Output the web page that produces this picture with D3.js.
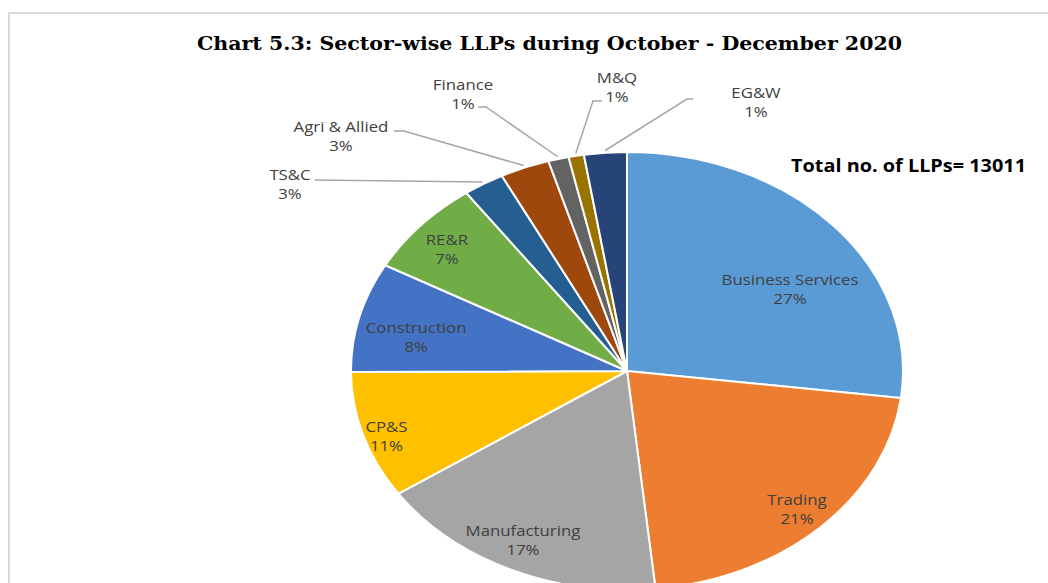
<!DOCTYPE html>
<html>
<head>
<meta charset="UTF-8">
<title>Sector-wise LLPs</title>
<script src="https://cdn.jsdelivr.net/npm/d3@7"></script>
<style>
  body { margin: 0; background: #fff; }
</style>
</head>
<body>
<script>
// data (slice shares in %, labels as printed)
var sectors = ["Business Services", "Trading", "Manufacturing", "CP&S", "Construction", "RE&R",
               "TS&C", "Agri & Allied", "Finance", "M&Q", "EG&W"];
var shares = [27.0, 21.4, 17.2, 9.4, 8.1, 7.1, 2.4, 2.9, 1.2, 0.9, 2.5];
var pctLabels = ["27%", "21%", "17%", "11%", "8%", "7%", "3%", "3%", "1%", "1%", "1%"];
var colours = ["#5B9BD5", "#ED7D31", "#A5A5A5", "#FFC000", "#4472C4", "#70AD47",
               "#255E91", "#9E480E", "#636363", "#997300", "#264478"];
var chartTitle = "Chart 5.3: Sector-wise LLPs during October - December 2020";
var totalLLPs = 13011;

var w = 1048, h = 583,
    cx = 627, cy = 371,
    ry = 219, sx = 276 / 219;   // picture is stretched sideways

// where Excel put the labels inside the slices: radius fraction, angle nudge (deg)
var inside = {
  "Business Services": [0.70, 9],
  "Trading": [0.88, 0],
  "Manufacturing": [0.86, 1],
  "CP&S": [0.92, -1.5],
  "Construction": [0.78, -2.7],
  "RE&R": [0.86, -1]
};
// outside labels: text centre, then leader start and elbow
var outside = {
  "TS&C":          {x: 290, y: 184, line: [[315, 180], [315, 180]]},
  "Agri & Allied": {x: 341, y: 136, line: [[394, 131], [404, 131]]},
  "Finance":       {x: 463, y: 94,  line: [[478, 107], [486, 107]]},
  "M&Q":           {x: 617, y: 87,  line: [[602, 101], [593, 101]]},
  "EG&W":          {x: 756, y: 102, line: [[693, 99], [687, 99]]}
};

var svg = d3.select("body").append("svg")
    .attr("width", w)
    .attr("height", h);

// frame
svg.append("path")
    .attr("d", "M9," + h + "V13H" + w)
    .attr("fill", "none")
    .attr("stroke", "#d9d9d9")
    .attr("stroke-width", 2);

svg.append("text")
    .attr("x", 549.5).attr("y", 43)
    .attr("text-anchor", "middle")
    .attr("dominant-baseline", "central")
    .attr("textLength", 705)
    .attr("lengthAdjust", "spacingAndGlyphs")
    .style("font", "bold 19px 'DejaVu Serif'")
    .style("fill", "#000")
    .text(chartTitle);

var pie = d3.pie().sort(null).value(function(d){ return d; });
var arcs = pie(shares);
var arc = d3.arc().innerRadius(0).outerRadius(ry);

var g = svg.append("g")
    .attr("transform", "translate(" + cx + "," + cy + ") scale(" + sx + ",1)");

g.selectAll("path")
    .data(arcs)
  .enter().append("path")
    .attr("d", arc)
    .attr("fill", function(d, i){ return colours[i]; })
    .attr("stroke", "#fff")
    .attr("stroke-width", 2)
    .attr("vector-effect", "non-scaling-stroke");

function pt(a, r) {
  return [cx + sx * r * Math.sin(a), cy - r * Math.cos(a)];
}

var labelFont = "15px 'Open Sans'";

arcs.forEach(function(d, i) {
  var name = sectors[i], mid = (d.startAngle + d.endAngle) / 2, p;
  if (inside[name]) {
    p = pt(mid + inside[name][1] * Math.PI / 180, ry * inside[name][0]);
  } else {
    var o = outside[name];
    p = [o.x, o.y];
    var end = pt(mid, ry * 1.01);
    svg.append("polyline")
        .attr("points", [o.line[0], o.line[1], end].map(function(q){ return q.join(","); }).join(" "))
        .attr("fill", "none")
        .attr("stroke", "#a6a6a6")
        .attr("stroke-width", 1.5);
  }
  var t = svg.append("text")
      .attr("transform", "translate(" + p[0] + "," + p[1] + ") scale(1.12,1)")
      .attr("text-anchor", "middle")
      .style("font", labelFont)
      .style("fill", "#404040");
  [name, pctLabels[i]].forEach(function(s, k) {
    t.append("tspan")
        .attr("x", 0)
        .attr("y", k === 0 ? -9.5 : 9.5)
        .attr("dominant-baseline", "central")
        .text(s);
  });
});

svg.append("text")
    .attr("x", 791).attr("y", 165)
    .attr("dominant-baseline", "central")
    .attr("textLength", 235)
    .attr("lengthAdjust", "spacingAndGlyphs")
    .style("font", "bold 17px 'Open Sans'")
    .style("fill", "#000")
    .text("Total no. of LLPs= " + totalLLPs);
</script>
</body>
</html>
